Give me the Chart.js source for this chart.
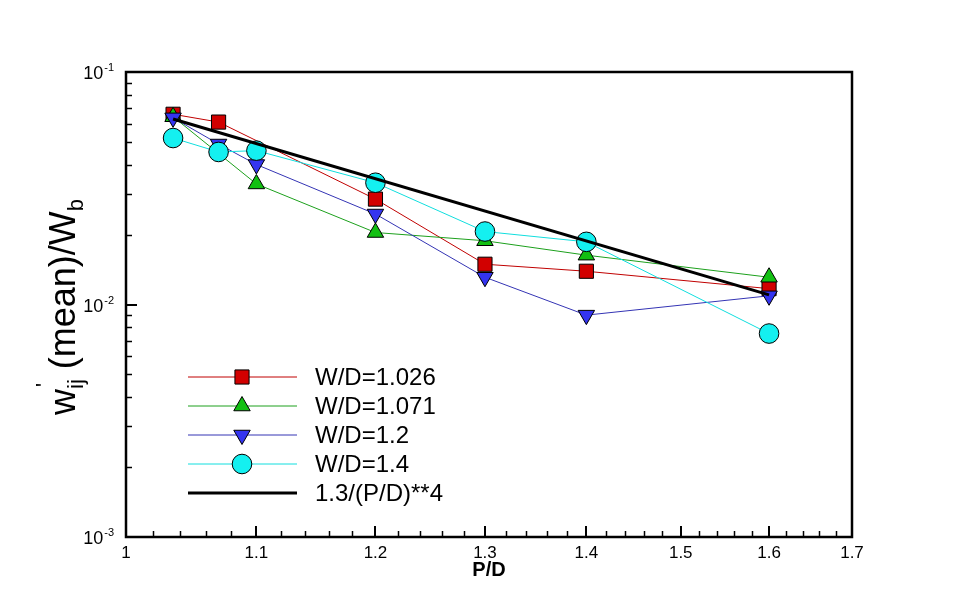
<!DOCTYPE html>
<html lang="en">
<head>
  <meta charset="UTF-8" />
  <title>w'ij(mean)/Wb vs P/D</title>
  <style>
    body {
      margin: 0;
      background-color: #ffffff;
    }
    #chart {
      display: block;
    }
  </style>
</head>
<body>

<canvas id="chart" width="966" height="604"></canvas>

<script src="https://cdn.jsdelivr.net/npm/chart.js"></script>

<script>
// values (P/D, w'ij(mean)/Wb)
const seriesNames = ['W/D=1.026', 'W/D=1.071', 'W/D=1.2', 'W/D=1.4', '1.3/(P/D)**4'];

const pdRed = [1.035, 1.07, 1.2, 1.3, 1.4, 1.6];
const wRed = [0.0658, 0.0609, 0.0284, 0.0149, 0.0139, 0.0117];

const pdGreen = [1.035, 1.1, 1.2, 1.3, 1.4, 1.6];
const wGreen = [0.0642, 0.0330, 0.0204, 0.0188, 0.0163, 0.0131];

const pdBlue = [1.035, 1.07, 1.1, 1.2, 1.3, 1.4, 1.6];
const wBlue = [0.0635, 0.0490, 0.0400, 0.0245, 0.0131, 0.0090, 0.0109];

const pdCyan = [1.035, 1.07, 1.1, 1.2, 1.3, 1.4, 1.6];
const wCyan = [0.0520, 0.0453, 0.0459, 0.0334, 0.0206, 0.0186, 0.0075];

const pdFit = [1.035, 1.6];
const wFit = [0.0628, 0.0110];

// axis ticks
const xTicks = [1, 1.1, 1.2, 1.3, 1.4, 1.5, 1.6, 1.7];
const xTickLabels = ['1', '1.1', '1.2', '1.3', '1.4', '1.5', '1.6', '1.7'];
const yTicks = [0.1, 0.01, 0.001];
const yTickExps = ['-1', '-2', '-3'];

function pts(xs, ys) {
  return xs.map((x, i) => ({ x: x, y: ys[i] }));
}

const FONT = "'Liberation Sans', Arial, sans-serif";

// inward ticks, box, tick labels and axis titles
const axesPlugin = {
  id: 'axesPlugin',
  afterDraw(chart) {
    const ctx = chart.ctx;
    const xs = chart.scales.x;
    const ys = chart.scales.y;
    const a = chart.chartArea;
    ctx.save();
    ctx.strokeStyle = '#000';

    // x ticks
    const minorX = [];
    for (let i = 1; i < 35; i++) {
      const v = Math.round((1 + i * 0.02) * 100) / 100;
      if (Math.round(v * 100) % 10 !== 0) minorX.push(v);
    }
    ctx.lineWidth = 1.5;
    minorX.forEach(v => {
      const px = Math.round(xs.getPixelForValue(v)) + 0.5;
      ctx.beginPath(); ctx.moveTo(px, a.bottom); ctx.lineTo(px, a.bottom - 6); ctx.stroke();
    });
    ctx.lineWidth = 2;
    xTicks.forEach(v => {
      const px = Math.round(xs.getPixelForValue(v));
      ctx.beginPath(); ctx.moveTo(px, a.bottom); ctx.lineTo(px, a.bottom - 11); ctx.stroke();
    });

    // y ticks
    ctx.lineWidth = 1.5;
    [0.001, 0.01].forEach(dec => {
      for (let k = 2; k <= 9; k++) {
        const py = Math.round(ys.getPixelForValue(k * dec)) + 0.5;
        ctx.beginPath(); ctx.moveTo(a.left, py); ctx.lineTo(a.left + 6, py); ctx.stroke();
      }
    });
    ctx.lineWidth = 2;
    yTicks.forEach(v => {
      const py = Math.round(ys.getPixelForValue(v));
      ctx.beginPath(); ctx.moveTo(a.left, py); ctx.lineTo(a.left + 11, py); ctx.stroke();
    });

    // box
    ctx.lineWidth = 2.5;
    ctx.strokeRect(a.left, a.top, a.right - a.left, a.bottom - a.top);

    // x tick labels
    ctx.fillStyle = '#000';
    ctx.font = '17px ' + FONT;
    ctx.textAlign = 'center';
    ctx.textBaseline = 'alphabetic';
    xTicks.forEach((v, i) => {
      ctx.fillText(xTickLabels[i], xs.getPixelForValue(v), a.bottom + 21);
    });

    // y tick labels: 10 with superscript exponent
    yTicks.forEach((v, i) => {
      const py = ys.getPixelForValue(v);
      ctx.font = '11px ' + FONT;
      ctx.textAlign = 'left';
      const ew = ctx.measureText(yTickExps[i]).width;
      const right = 114;
      ctx.fillText(yTickExps[i], right - ew, py - 1);
      ctx.font = '18px ' + FONT;
      ctx.textAlign = 'right';
      ctx.fillText('10', right - ew - 1, py + 7);
    });

    // x title
    ctx.font = 'bold 20px ' + FONT;
    ctx.textAlign = 'center';
    ctx.fillText('P/D', (a.left + a.right) / 2, a.bottom + 39);

    // y title, rotated
    ctx.translate(75, 415);
    ctx.rotate(-Math.PI / 2);
    ctx.textAlign = 'left';
    let x = 0;
    ctx.font = '36px ' + FONT;
    ctx.fillText('w', x, 0);
    x += ctx.measureText('w').width;
    ctx.font = '22px ' + FONT;
    ctx.fillText('\'', x + 2, -24);
    ctx.fillText('ij', x, 8);
    x += ctx.measureText('ij').width;
    ctx.font = '36px ' + FONT;
    ctx.fillText(' (mean)/W', x, 0);
    x += ctx.measureText(' (mean)/W').width;
    ctx.font = '22px ' + FONT;
    ctx.fillText('b', x, 8);

    ctx.restore();
  }
};

// legend drawn inside the plot
const legendPlugin = {
  id: 'legendPlugin',
  afterDraw(chart) {
    const ctx = chart.ctx;
    const rows = [377, 406, 435, 464, 493];
    ctx.save();
    chart.data.datasets.forEach((ds, r) => {
      const y = rows[r];
      ctx.strokeStyle = ds.borderColor;
      ctx.lineWidth = ds.borderWidth;
      ctx.beginPath(); ctx.moveTo(188, y); ctx.lineTo(297, y); ctx.stroke();
      if (ds.pointRadius > 0) {
        ctx.fillStyle = ds.pointBackgroundColor;
        ctx.strokeStyle = ds.pointBorderColor;
        ctx.lineWidth = ds.pointBorderWidth;
        Chart.helpers.drawPoint(ctx, {
          pointStyle: ds.pointStyle,
          rotation: ds.pointRotation || 0,
          radius: ds.pointRadius,
          borderWidth: ds.pointBorderWidth
        }, 242, y);
      }
      ctx.fillStyle = '#000';
      ctx.font = '24px ' + FONT;
      ctx.textAlign = 'left';
      ctx.textBaseline = 'middle';
      ctx.fillText(ds.label, 315, y + 1);
    });
    ctx.restore();
  }
};

function series(label, data, line, fill, style, radius, rot, order) {
  return {
    label: label,
    data: data,
    showLine: true,
    borderColor: line,
    borderWidth: 1,
    pointStyle: style,
    pointRotation: rot,
    pointRadius: radius,
    pointHoverRadius: radius,
    pointBackgroundColor: fill,
    pointBorderColor: '#000',
    pointBorderWidth: 1,
    order: order
  };
}

new Chart(document.getElementById('chart').getContext('2d'), {
  type: 'scatter',
  data: {
    datasets: [
      series(seriesNames[0], pts(pdRed, wRed), '#c00000', '#d20000', 'rect', 10, 0, 4),
      series(seriesNames[1], pts(pdGreen, wGreen), '#1ca01c', '#12c012', 'triangle', 9.5, 0, 3),
      series(seriesNames[2], pts(pdBlue, wBlue), '#3434b4', '#3434f0', 'triangle', 9.5, 180, 2),
      series(seriesNames[3], pts(pdCyan, wCyan), '#10dede', '#14f0f0', 'circle', 9.8, 0, 1),
      {
        label: seriesNames[4],
        data: pts(pdFit, wFit),
        showLine: true,
        borderColor: '#000',
        borderWidth: 3,
        pointRadius: 0,
        order: 0
      }
    ]
  },
  options: {
    responsive: false,
    animation: false,
    layout: { padding: { left: 126, top: 72, right: 114, bottom: 67 } },
    scales: {
      x: { type: 'logarithmic', min: 1, max: 1.7, display: false },
      y: { type: 'logarithmic', min: 0.001, max: 0.1, display: false }
    },
    plugins: {
      legend: { display: false },
      tooltip: { enabled: false }
    }
  },
  plugins: [axesPlugin, legendPlugin]
});
</script>

</body>
</html>
